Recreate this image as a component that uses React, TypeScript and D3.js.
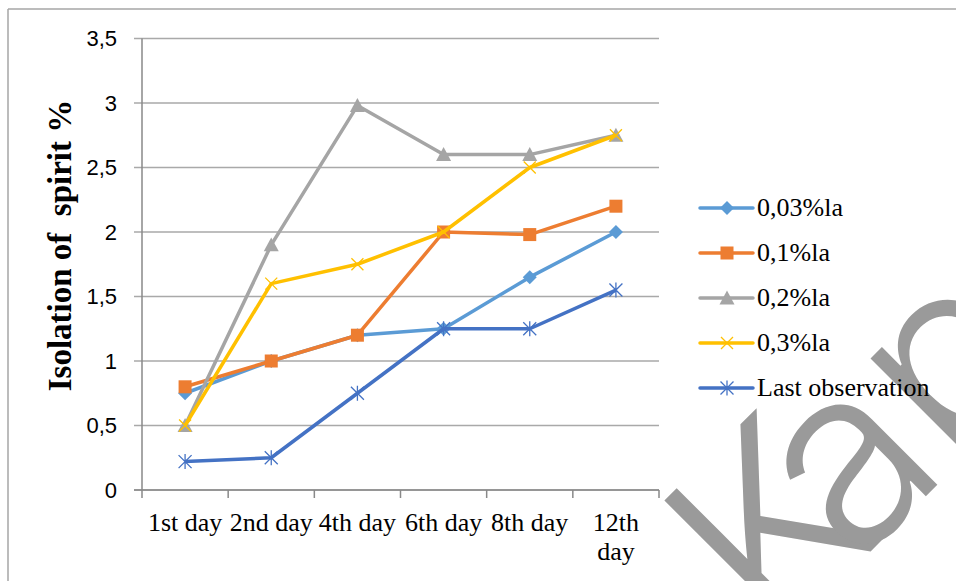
import React from "react";
import * as d3 from "d3";

// Observation days along the x axis
const categories = ["1st day", "2nd day", "4th day", "6th day", "8th day", "12th day"];

// Spirit isolation (%) for each treatment
const s003 = [0.75, 1.0, 1.2, 1.25, 1.65, 2.0];
const s01 = [0.8, 1.0, 1.2, 2.0, 1.98, 2.2];
const s02 = [0.5, 1.9, 2.98, 2.6, 2.6, 2.75];
const s03 = [0.5, 1.6, 1.75, 2.0, 2.5, 2.75];
const sLast = [0.22, 0.25, 0.75, 1.25, 1.25, 1.55];

const seriesNames = ["0,03%la", "0,1%la", "0,2%la", "0,3%la", "Last observation"];
const yTicks = [0, 0.5, 1, 1.5, 2, 2.5, 3, 3.5];
const yTickLabels = ["0", "0,5", "1", "1,5", "2", "2,5", "3", "3,5"];

const W = 956;
const H = 581;
const plot = { left: 142, right: 659, top: 38.5, bottom: 490 };

const series = [
  { name: seriesNames[0], values: s003, color: "#5b9bd5", marker: "diamond" },
  { name: seriesNames[1], values: s01, color: "#ed7d31", marker: "square" },
  { name: seriesNames[2], values: s02, color: "#a5a5a5", marker: "triangle" },
  { name: seriesNames[3], values: s03, color: "#ffc000", marker: "x" },
  { name: seriesNames[4], values: sLast, color: "#4472c4", marker: "star" },
];

function Marker({ type, x, y, color }: { type: string; x: number; y: number; color: string }) {
  if (type === "diamond") {
    const r = 7;
    return <path d={`M${x},${y - r}L${x + r},${y}L${x},${y + r}L${x - r},${y}Z`} fill={color} />;
  }
  if (type === "square") {
    const s = 13;
    return <rect x={x - s / 2} y={y - s / 2} width={s} height={s} fill={color} />;
  }
  if (type === "triangle") {
    const r = 7.5;
    return <path d={`M${x},${y - r}L${x + r},${y + r * 0.85}L${x - r},${y + r * 0.85}Z`} fill={color} />;
  }
  if (type === "x") {
    const r = 6;
    return (
      <path
        d={`M${x - r},${y - r}L${x + r},${y + r}M${x - r},${y + r}L${x + r},${y - r}`}
        stroke={color}
        strokeWidth={1.3}
        fill="none"
      />
    );
  }
  const r = 6.5;
  return (
    <path
      d={`M${x - r},${y - r}L${x + r},${y + r}M${x - r},${y + r}L${x + r},${y - r}M${x},${y - r - 1}L${x},${y + r + 1}`}
      stroke={color}
      strokeWidth={1.3}
      fill="none"
    />
  );
}

export default function App() {
  const x = d3.scaleBand<string>().domain(categories).range([plot.left, plot.right]).padding(0);
  const bw = x.bandwidth();
  const cx = (c: string) => (x(c) as number) + bw / 2;
  const y = d3.scaleLinear().domain([0, 3.5]).range([plot.bottom, plot.top]);

  const line = d3
    .line<number>()
    .x((_, i) => cx(categories[i]))
    .y((v) => y(v));

  const boundaries = categories.map((c) => x(c) as number).concat([plot.right]);

  const legendX = 700;
  const legendY0 = 208;
  const legendStep = 45;

  return (
    <svg
      width={W}
      height={H}
      style={{ position: "fixed", left: 0, top: 0, display: "block", background: "#fff" }}
    >
      {/* outer frame */}
      <line x1={8} y1={9} x2={W} y2={9} stroke="#a6a6a6" strokeWidth={1.5} />
      <line x1={8} y1={9} x2={8} y2={H} stroke="#a6a6a6" strokeWidth={1.5} />

      {/* gridlines */}
      {yTicks.map((t) => (
        <line
          key={t}
          x1={plot.left - 8}
          x2={plot.right}
          y1={y(t)}
          y2={y(t)}
          stroke="#a9a9a9"
          strokeWidth={1.5}
        />
      ))}

      {/* axes */}
      <line x1={plot.left} x2={plot.left} y1={plot.top} y2={plot.bottom} stroke="#898989" strokeWidth={1.5} />
      <line x1={plot.left - 8} x2={plot.right} y1={plot.bottom} y2={plot.bottom} stroke="#898989" strokeWidth={1.5} />
      {boundaries.map((b, i) => (
        <line key={i} x1={b} x2={b} y1={plot.bottom} y2={plot.bottom + 8} stroke="#898989" strokeWidth={1.5} />
      ))}

      {/* y tick labels */}
      {yTicks.map((t, i) => (
        <text
          key={t}
          x={117}
          y={y(t)}
          dy="0.36em"
          textAnchor="end"
          fontFamily="'Liberation Sans', Arial, sans-serif"
          fontSize={22}
          fill="#000"
        >
          {yTickLabels[i]}
        </text>
      ))}

      {/* x category labels */}
      {categories.map((c) => {
        const parts = c === "12th day" ? ["12th", "day"] : [c];
        return (
          <text
            key={c}
            x={cx(c)}
            y={531}
            textAnchor="middle"
            fontFamily="'Liberation Serif', 'Times New Roman', serif"
            fontSize={26}
            fill="#000"
          >
            {parts.map((p, j) => (
              <tspan key={j} x={cx(c)} dy={j === 0 ? 0 : 29}>
                {p}
              </tspan>
            ))}
          </text>
        );
      })}

      {/* y axis title */}
      <text
        transform={`translate(71,${(98 + 393) / 2}) rotate(-90)`}
        textAnchor="middle"
        fontFamily="'Liberation Serif', 'Times New Roman', serif"
        fontWeight="bold"
        fontSize={33}
        fill="#000"
        style={{ whiteSpace: "pre" }}
      >
        {"Isolation of  spirit %"}
      </text>

      {/* series */}
      {series.map((s) => (
        <g key={s.name}>
          <path d={line(s.values) || ""} fill="none" stroke={s.color} strokeWidth={3.5} strokeLinejoin="round" />
          {s.values.map((v, i) => (
            <Marker key={i} type={s.marker} x={cx(categories[i])} y={y(v)} color={s.color} />
          ))}
        </g>
      ))}

      {/* watermark */}
      <text
        transform="translate(776,646) rotate(-45)"
        fontFamily="Inter, 'Noto Sans', sans-serif"
        fontWeight={260}
        fontSize={250}
        fill="#9a9a9a"
      >
        <tspan>K</tspan>
        <tspan dx={-50}>ap</tspan>
      </text>

      {/* legend */}
      {series.map((s, i) => {
        const ly = legendY0 + i * legendStep;
        return (
          <g key={s.name}>
            <line x1={legendX} x2={legendX + 53} y1={ly} y2={ly} stroke={s.color} strokeWidth={3.5} strokeLinecap="round" />
            <Marker type={s.marker} x={legendX + 27} y={ly} color={s.color} />
            <text
              x={legendX + 57}
              y={ly + 8}
              fontFamily="'Liberation Serif', 'Times New Roman', serif"
              fontSize={26}
              fill="#000"
            >
              {s.name}
            </text>
          </g>
        );
      })}
    </svg>
  );
}
